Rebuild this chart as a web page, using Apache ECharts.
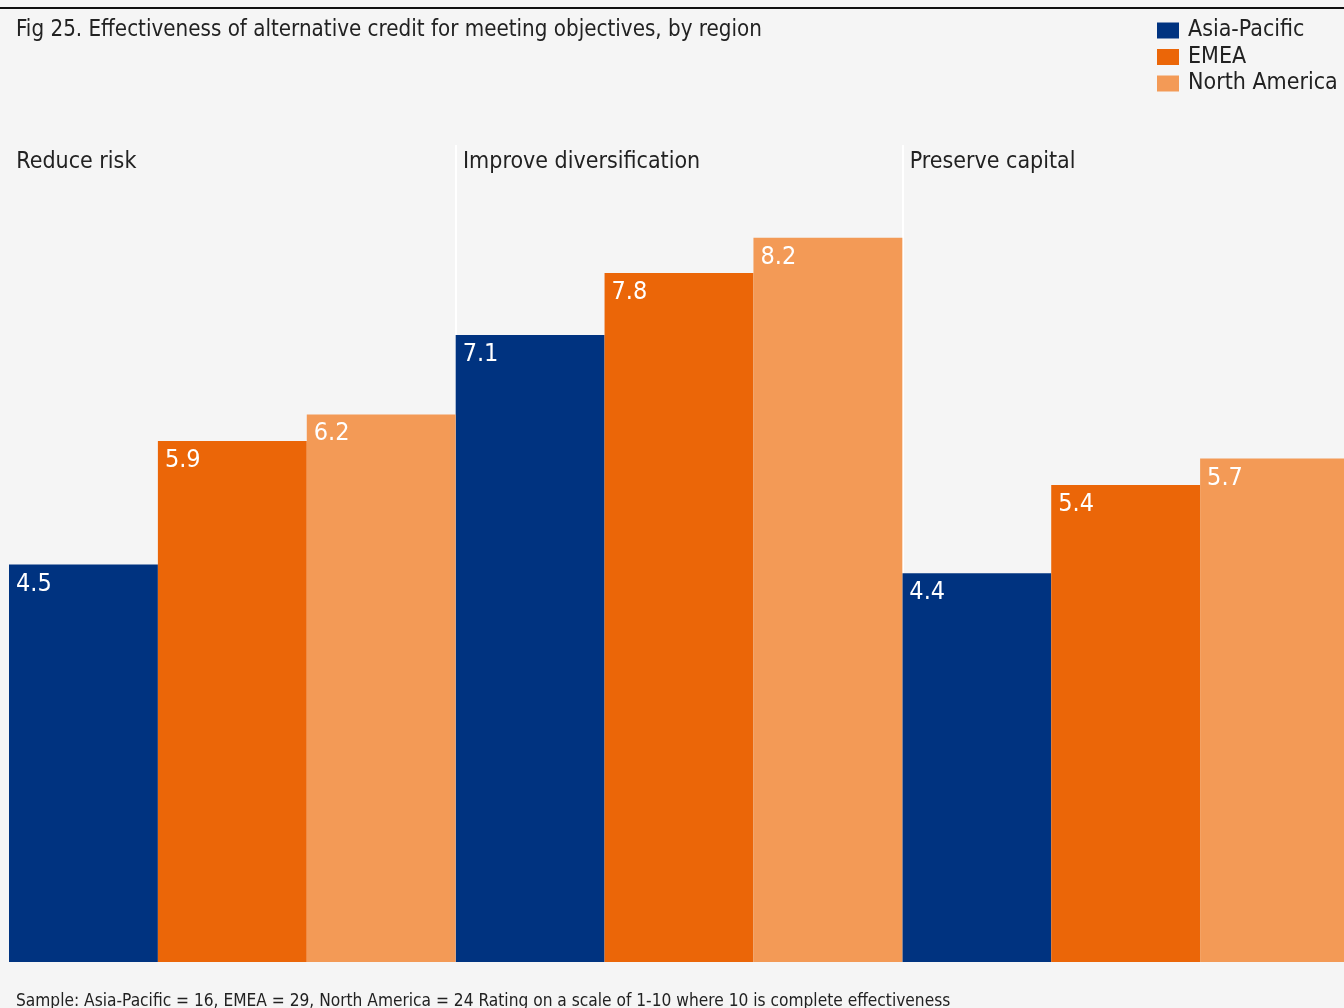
<!DOCTYPE html>
<html><head><meta charset="utf-8">
<script src="https://cdn.jsdelivr.net/npm/echarts@6/dist/echarts.min.js"></script>
<style>html,body{margin:0;padding:0;background:#f5f5f5}#c{width:1344px;height:1008px}</style>
</head><body><div id="c"></div>
<script>
const categories = ['Reduce risk', 'Improve diversification', 'Preserve capital'];
const seriesNames = ['Asia-Pacific', 'EMEA', 'North America'];
const asiaPacific = [4.5, 7.1, 4.4];
const emea = [5.9, 7.8, 5.4];
const northAmerica = [6.2, 8.2, 5.7];
const colors = ['#003380', '#eb6608', '#f39a56'];
const FONT = '"Liberation Sans Narrow", "DejaVu Sans Condensed", sans-serif';

const chart = echarts.init(document.getElementById('c'), null, {renderer: 'canvas'});
const mk = (name, data, color) => ({
  name, type: 'bar', data, barGap: '0%', barCategoryGap: '0%',
  itemStyle: {color},
  label: {show: true, position: 'insideTopLeft', distance: 7, color: '#fff',
    fontFamily: FONT, fontSize: 25, formatter: p => p.value.toFixed(1)}
});
chart.setOption({
  backgroundColor: '#f5f5f5',
  animation: false,
  title: [{
    text: 'Fig 25. Effectiveness of alternative credit for meeting objectives, by region',
    left: 16, top: 19, padding: 0,
    textStyle: {fontFamily: FONT, fontSize: 22.2, fontWeight: 'normal', color: '#222'}
  }, {
    text: 'Sample: Asia-Pacific = 16, EMEA = 29, North America = 24 Rating on a scale of 1-10 where 10 is complete effectiveness',
    left: 16, top: 993, padding: 0,
    textStyle: {fontFamily: FONT, fontSize: 17.2, fontWeight: 'normal', color: '#222'}
  }],
  legend: {
    orient: 'vertical', left: 1157, top: 19, padding: 0, itemWidth: 22, itemHeight: 16, itemGap: 3.5,
    data: seriesNames, icon: 'rect',
    textStyle: {fontFamily: FONT, fontSize: 23, color: '#222', padding: [0, 0, 0, 4]}
  },
  graphic: [{type: 'rect', shape: {x: 0, y: 7, width: 1344, height: 2}, style: {fill: '#111'}}],
  grid: {left: 9, width: 1340, top: 145, bottom: 46, outerBoundsMode: 'none', containLabel: false},
  xAxis: {
    type: 'category', data: categories, position: 'top',
    axisLine: {show: false}, axisTick: {show: false},
    splitLine: {show: true, showMinLine: false, showMaxLine: false, lineStyle: {color: '#ffffff', width: 2}},
    axisLabel: {
      margin: -29, interval: 0, align: 'center',
      formatter: v => '{a|' + v + '}',
      rich: {a: {width: 432, align: 'left', fontFamily: FONT, fontSize: 23, color: '#222'}}
    }
  },
  yAxis: {type: 'value', min: 0, max: 9.25, show: false, splitLine: {show: false}},
  series: [mk(seriesNames[0], asiaPacific, colors[0]), mk(seriesNames[1], emea, colors[1]), mk(seriesNames[2], northAmerica, colors[2])]
});
</script></body></html>
